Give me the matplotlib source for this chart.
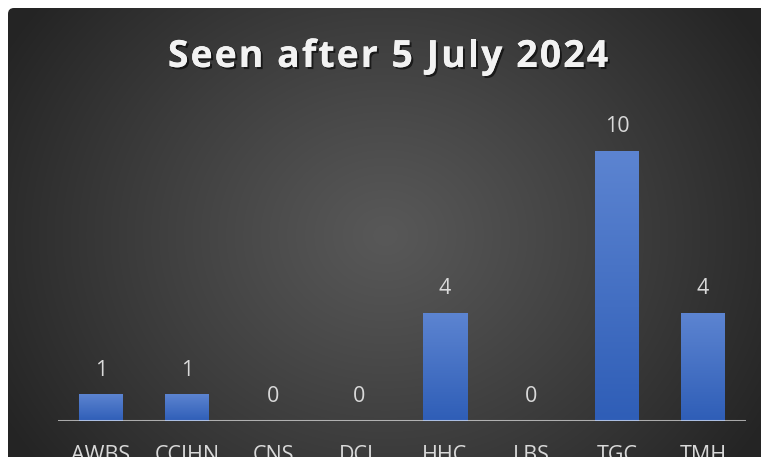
"""
Seen after 5 July 2024 - bar chart on a dark radial background
"""

import numpy as np
from matplotlib import pyplot as plt
from matplotlib import patheffects as pe
from matplotlib.colors import LinearSegmentedColormap
from matplotlib.patches import FancyBboxPatch

categories = ['AWBS', 'CCIHN', 'CNS', 'DCL', 'HHC', 'LBS', 'TGC', 'TMH']
seen = [1, 1, 0, 0, 4, 0, 10, 4]
title = 'Seen after 5 July 2024'

W, H = 761, 457
TEXT = '#d9d9d9'

plt.rcParams['font.family'] = ['Open Sans', 'DejaVu Sans']

fig = plt.figure(figsize=(W / 100, H / 100), dpi=100)
fig.patch.set_facecolor('white')

# background panel with radial gradient
bg = fig.add_axes([0, 0, 1, 1])
bg.set_xlim(0, W)
bg.set_ylim(H, 0)
bg.axis('off')
yy, xx = np.mgrid[0:H, 0:W]
r = np.hypot(xx - 385, (yy - 235) * 1.15)
shade = 0x58 - (0x58 - 0x24) * np.clip(r / 440, 0, 1) ** 1.1
img = np.dstack([shade, shade, shade]) / 255.0
im = bg.imshow(img, extent=[0, W, H, 0], interpolation='bilinear')
panel = FancyBboxPatch((8, 8), W + 20, H + 20,
                       boxstyle='round,pad=0,rounding_size=6',
                       transform=bg.transData, facecolor='none', edgecolor='none')
bg.add_patch(panel)
im.set_clip_path(panel)

# plot area
ax = fig.add_axes([58 / W, 1 - 421 / H, (746 - 58) / W, (421 - 97) / H])
ax.patch.set_alpha(0)

bar_cmap = LinearSegmentedColormap.from_list('bar', ['#2f5eb7', '#5c84d1'])
grad = np.linspace(0, 1, 100).reshape(-1, 1)
width = 44 / 86
for i, v in enumerate(seen):
    if v > 0:
        ax.imshow(grad, extent=[i - width / 2, i + width / 2, 0, v], origin='lower',
                  cmap=bar_cmap, aspect='auto', zorder=2)
    ax.text(i, v + 0.5, str(v), ha='center', va='bottom', fontsize=15.5, color=TEXT)

ax.axhline(0, color='white', alpha=0.6, lw=2.2, zorder=3)
ax.set_xlim(-0.5, len(categories) - 0.5)
ax.set_ylim(0, 12)

ax.set_xticks(range(len(categories)))
ax.set_xticklabels(categories, fontsize=15.5, color=TEXT)
ax.tick_params(axis='x', length=0, pad=17)
ax.set_yticks([])
for s in ax.spines.values():
    s.set_visible(False)

# title with letter spacing, drawn char by char
renderer = fig.canvas.get_renderer()
title_kw = dict(fontsize=27, fontweight='bold', color='#f2f2f2', va='center', ha='left',
                path_effects=[pe.withSimplePatchShadow(offset=(1.5, -1.5), shadow_rgbFace='black', alpha=0.6),
                              pe.Normal()])
spacing = 2.0


def text_width(s):
    if not s:
        return 0.0
    t = fig.text(0, 0, s, **title_kw)
    w = t.get_window_extent(renderer).width
    t.remove()
    return w


total = text_width(title) + spacing * (len(title) - 1)
x0 = 388 - total / 2
for i, ch in enumerate(title):
    if ch == ' ':
        continue
    x = x0 + text_width(title[:i]) + spacing * i
    fig.text(x / W, 1 - 57 / H, ch, **title_kw)

fig.savefig('out.png', dpi=100)
